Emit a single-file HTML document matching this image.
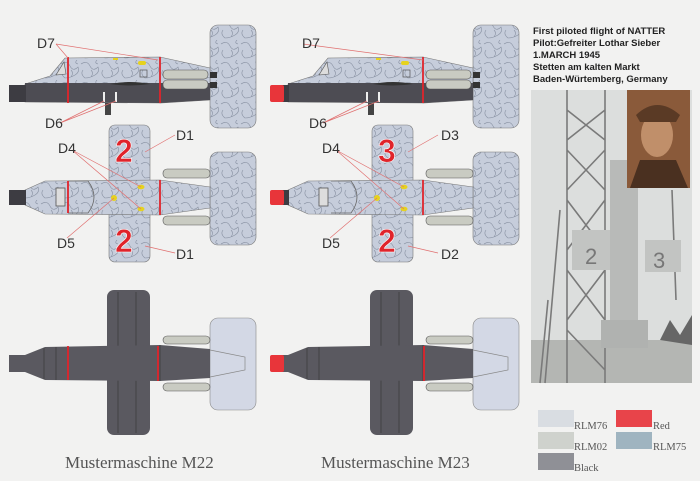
<!DOCTYPE html>
<html><head><meta charset="utf-8"><style>
html,body{margin:0;padding:0;background:#f2f2f1}
svg{display:block}
</style></head><body>
<svg width="700" height="481" viewBox="0 0 700 481" xmlns="http://www.w3.org/2000/svg" font-family="Liberation Sans, sans-serif">
<defs>
<pattern id="camo" width="20" height="20" patternUnits="userSpaceOnUse">
<rect width="20" height="20" fill="#c6cddb"/>
<path d="M1,4 Q7,0 10,6 T18,7 Q20,12 15,15 T5,18 Q0,14 3,10 M11,10 Q14,13 11,17 M17,0 Q14,3 18,4" fill="none" stroke="#8891a2" stroke-width="0.6"/>
</pattern>
<g id="side">
<rect x="210" y="25" width="46" height="103" rx="8" fill="url(#camo)" stroke="#777" stroke-width="0.6"/>
<path d="M160,57 L210,68 L210,100 L160,103 Z" fill="url(#camo)" stroke="#777" stroke-width="0.6"/>
<path d="M25,84 L50,76 L65,58 L160,57 L160,103 L25,102 Z" fill="url(#camo)" stroke="#777" stroke-width="0.6"/>
<path d="M25,83 L210,83 L210,100 L160,103 L25,102 Z" fill="#4d4c53"/>
<rect x="9" y="85" width="17" height="17" fill="#3d3c42"/>
<rect x="163" y="70" width="45" height="9" rx="4" fill="#c9cbc2" stroke="#555" stroke-width="0.6"/>
<rect x="163" y="80" width="45" height="9" rx="4" fill="#c9cbc2" stroke="#555" stroke-width="0.6"/>
<rect x="210" y="72" width="7" height="6" fill="#333"/><rect x="210" y="82" width="7" height="6" fill="#333"/>
<path d="M110,84 Q130,80 150,84 Q130,87 110,84Z" fill="#333"/>
<rect x="105" y="103" width="6" height="12" fill="#444"/>
<rect x="103" y="92" width="2" height="10" fill="#eee"/><rect x="115" y="92" width="2" height="10" fill="#eee"/>
<rect x="138" y="61" width="8" height="4" rx="2" fill="#e6d21e"/>
<rect x="140" y="70" width="7" height="7" fill="none" stroke="#555" stroke-width="0.7"/>
<rect x="113" y="58" width="5" height="2" fill="#e6d21e"/>
<path d="M56,75 L64,62 L66,74Z" fill="#ddd" stroke="#555" stroke-width="0.6"/>
<line x1="160" y1="57" x2="160" y2="103" stroke="#e0242b" stroke-width="1.8"/>
</g>
<g id="top">
<rect x="109" y="125" width="41" height="137" rx="6" fill="url(#camo)" stroke="#777" stroke-width="0.6"/>
<rect x="210" y="152" width="46" height="93" rx="8" fill="url(#camo)" stroke="#777" stroke-width="0.6"/>
<rect x="163" y="169" width="47" height="9" rx="4" fill="#c9cbc2" stroke="#555" stroke-width="0.6"/>
<rect x="163" y="216" width="47" height="9" rx="4" fill="#c9cbc2" stroke="#555" stroke-width="0.6"/>
<path d="M25,190 L45,181 L160,180 L210,187 L210,208 L160,215 L45,214 L25,205 Z" fill="url(#camo)" stroke="#777" stroke-width="0.6"/>
<rect x="9" y="190" width="17" height="15" fill="#3d3c42"/>
<path d="M68,181 L88,181 Q100,197 88,213 L68,213" fill="none" stroke="#666" stroke-width="0.8"/>
<rect x="56" y="188" width="9" height="18" fill="#ddd" stroke="#555" stroke-width="0.8"/>
<line x1="160" y1="180" x2="160" y2="215" stroke="#e0242b" stroke-width="1.8"/>
<circle cx="114" cy="198" r="3" fill="#e6d21e"/>
<ellipse cx="141" cy="187" rx="3.5" ry="2.3" fill="#e6d21e"/>
<ellipse cx="141" cy="209" rx="3.5" ry="2.3" fill="#e6d21e"/>
</g>
<g id="bot">
<rect x="107" y="290" width="43" height="145" rx="7" fill="#5a5960"/>
<line x1="118" y1="292" x2="118" y2="433" stroke="#333" stroke-width="0.6"/><line x1="136" y1="292" x2="136" y2="433" stroke="#333" stroke-width="0.6"/>
<rect x="210" y="318" width="46" height="92" rx="8" fill="#d3d8e5" stroke="#888" stroke-width="0.6"/>
<rect x="163" y="336" width="47" height="8" rx="4" fill="#c9cbc2" stroke="#555" stroke-width="0.6"/>
<rect x="163" y="383" width="47" height="8" rx="4" fill="#c9cbc2" stroke="#555" stroke-width="0.6"/>
<path d="M25,355 L45,347 L160,345 L210,349 L210,378 L160,381 L45,380 L25,372 Z" fill="#5a5960"/>
<path d="M210,350 L245,357 L245,370 L210,377" fill="none" stroke="#888" stroke-width="0.7"/>
<rect x="9" y="355" width="17" height="17" fill="#5a5960"/>
<line x1="44" y1="348" x2="44" y2="379" stroke="#333" stroke-width="0.6"/>
<line x1="56" y1="347" x2="56" y2="380" stroke="#333" stroke-width="0.6"/>
<line x1="160" y1="345" x2="160" y2="381" stroke="#333" stroke-width="0.6"/>
</g>
</defs>
<rect width="700" height="481" fill="#f2f2f1"/>
<use href="#side"/><use href="#top"/><use href="#bot"/>
<line x1="68" y1="57" x2="68" y2="103" stroke="#e0242b" stroke-width="1.8"/>
<line x1="68" y1="181" x2="68" y2="213" stroke="#e0242b" stroke-width="1.8"/>
<line x1="68" y1="346" x2="68" y2="380" stroke="#e0242b" stroke-width="1.8"/>
<line x1="158" y1="346" x2="158" y2="381" stroke="#e0242b" stroke-width="1.8"/>
<g transform="translate(263,0)"><use href="#side"/><use href="#top"/><use href="#bot"/></g>
<rect x="270" y="85" width="14" height="17" rx="2" fill="#e8353a"/>
<rect x="270" y="190" width="14" height="15" rx="2" fill="#e8353a"/>
<rect x="270" y="355" width="14" height="17" rx="2" fill="#e8353a"/>
<line x1="424" y1="346" x2="424" y2="381" stroke="#e0242b" stroke-width="1.8"/>
<g font-size="32" font-weight="bold" fill="#e0242b" stroke="#fff" stroke-width="0.6" style="font-family:'Liberation Sans',sans-serif">
<text x="115" y="162">2</text><text x="115" y="252">2</text>
<text x="378" y="162">3</text><text x="378" y="252">2</text>
</g>
<g stroke="#e07070" stroke-width="0.7" fill="none">
<path d="M56,44 L68,58 M56,44 L158,60 M60,123 L104,101 M60,123 L116,101 M72,150 L141,187 M72,150 L141,209 M67,238 L114,198 M175,135 L145,152 M175,253 L145,246"/>
<path d="M303,44 L423,60 M323,123 L367,101 M323,123 L379,101 M336,150 L404,187 M336,150 L404,209 M330,238 L377,198 M438,135 L408,152 M438,253 L408,246"/>
</g>
<g font-size="14" fill="#333">
<text x="37" y="48">D7</text><text x="45" y="128">D6</text><text x="58" y="153">D4</text><text x="176" y="140">D1</text><text x="57" y="248">D5</text><text x="176" y="259">D1</text>
<text x="302" y="48">D7</text><text x="309" y="128">D6</text><text x="322" y="153">D4</text><text x="441" y="140">D3</text><text x="322" y="248">D5</text><text x="441" y="259">D2</text>
</g>
<g font-size="17" fill="#555" style="font-family:'Liberation Serif',serif">
<text x="65" y="468">Mustermaschine M22</text><text x="321" y="468">Mustermaschine M23</text>
</g>
<g font-size="9.5" font-weight="bold" fill="#222">
<text x="533" y="34">First piloted flight of NATTER</text>
<text x="533" y="46">Pilot:Gefreiter Lothar Sieber</text>
<text x="533" y="58">1.MARCH 1945</text>
<text x="533" y="70">Stetten am kalten Markt</text>
<text x="533" y="82">Baden-Würtemberg, Germany</text>
</g>
<rect x="531" y="90" width="161" height="293" fill="#dcdedd"/>
<rect x="531" y="340" width="161" height="43" fill="#b4b6b3"/>
<path d="M660,340 L670,320 L680,335 L692,315 L692,345Z" fill="#666"/>
<g stroke="#7a7a7a" stroke-width="1.6" fill="none">
<path d="M567,90 L567,383 M605,90 L605,383 M567,110 L605,140 M605,110 L567,140 M567,150 L605,190 M605,150 L567,190 M567,200 L605,250 M605,200 L567,250 M567,270 L605,320 M605,270 L567,320 M567,330 L605,370 M548,300 L540,383 M560,210 L545,383 M672,190 L676,300"/>
</g>
<rect x="572" y="230" width="40" height="40" fill="#c2c4c2"/>
<rect x="645" y="240" width="36" height="32" fill="#c2c4c2"/>
<rect x="610" y="160" width="28" height="180" fill="#b8bab8"/>
<rect x="601" y="320" width="47" height="28" fill="#b0b2b0"/>
<text x="585" y="264" font-size="22" fill="#777">2</text><text x="653" y="268" font-size="22" fill="#777">3</text>
<rect x="627" y="90" width="63" height="98" fill="#8a5a3a"/>
<ellipse cx="657" cy="135" rx="16" ry="22" fill="#c08f6a"/>
<path d="M636,115 Q657,95 680,115 L676,122 L640,122Z" fill="#5a3a25"/>
<path d="M630,188 L640,160 L676,160 L688,188Z" fill="#4a3020"/>
<rect x="538" y="410" width="36" height="17" fill="#d9dde2"/>
<rect x="616" y="410" width="36" height="17" fill="#e8444a"/>
<rect x="538" y="432" width="36" height="17" fill="#cfd2cd"/>
<rect x="616" y="432" width="36" height="17" fill="#9fb4c0"/>
<rect x="538" y="453" width="36" height="17" fill="#8f9096"/>
<g font-size="10.5" fill="#555" style="font-family:'Liberation Serif',serif">
<text x="574" y="429">RLM76</text><text x="653" y="429">Red</text>
<text x="574" y="450">RLM02</text><text x="653" y="450">RLM75</text>
<text x="574" y="471">Black</text>
</g>
</svg>
</body></html>
